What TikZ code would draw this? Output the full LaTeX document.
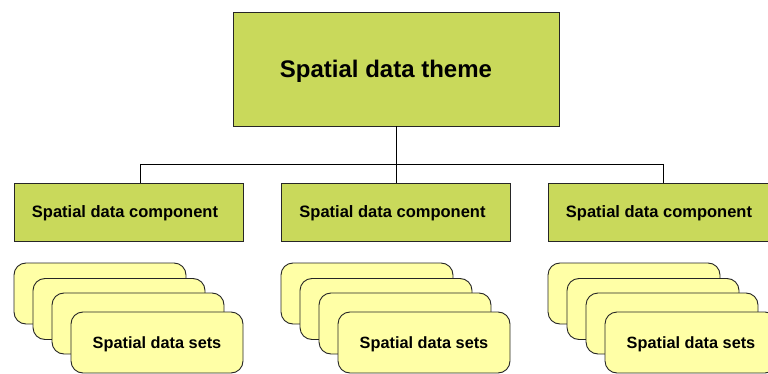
\documentclass[tikz,border=0pt]{standalone}
\usepackage{fontspec}
\setmainfont{Liberation Sans}
\begin{document}
\begin{tikzpicture}[x=1pt,y=-1pt,
  themebox/.style={draw=black!85,line width=0.9pt,fill=themegreen,minimum width=326pt,minimum height=114pt,inner sep=0pt,text depth=0pt,font=\fontsize{24}{28}\selectfont\bfseries},
  compbox/.style={draw=black!85,line width=0.9pt,fill=themegreen,minimum width=229pt,minimum height=58pt,inner sep=0pt,text depth=0pt,font=\fontsize{16.5}{19}\selectfont\bfseries},
  setbox/.style={draw=black!85,line width=0.9pt,fill=setyellow,rounded corners=12pt,minimum width=172pt,minimum height=61pt,inner sep=0pt,text depth=0pt,font=\fontsize{16.3}{19}\selectfont\bfseries},
  link/.style={draw=black,line width=0.9pt}]
\definecolor{themegreen}{RGB}{201,217,91}
\definecolor{setyellow}{RGB}{255,255,166}
\useasboundingbox (0,0) rectangle (768,374);
\clip (0,0) rectangle (768,374);
\fill[white] (0,0) rectangle (768,374);
% top
\node[themebox] (top) at (396,69) {\hspace*{-20pt}Spatial data theme};
% components
\node[compbox] (c1) at (128.5,212) {\hspace*{-7pt}Spatial data component};
\node[compbox] (c2) at (396,212) {\hspace*{-7pt}Spatial data component};
\node[compbox] (c3) at (662.5,212) {\hspace*{-7pt}Spatial data component};
% connectors
\coordinate (jt) at (396,164);
\coordinate (jl) at (140,164);
\coordinate (jr) at (663,164);
\draw[link] (top.south) -- (jt);
\draw[link] (jl) -- (jr);
\draw[link] (jl) -- (jl |- c1.north);
\draw[link] (jt) -- (c2.north);
\draw[link] (jr) -- (jr |- c3.north);
% data set stacks
\foreach \g/\ox in {1/0,2/267,3/534}{
  \node[setbox] (s\g a) at (100+\ox,293.5) {};
  \node[setbox] (s\g b) at (119+\ox,309) {};
  \node[setbox] (s\g c) at (138+\ox,323.5) {};
  \node[setbox] (s\g d) at (157+\ox,342.5) {Spatial data sets};
}
\end{tikzpicture}
\end{document}
